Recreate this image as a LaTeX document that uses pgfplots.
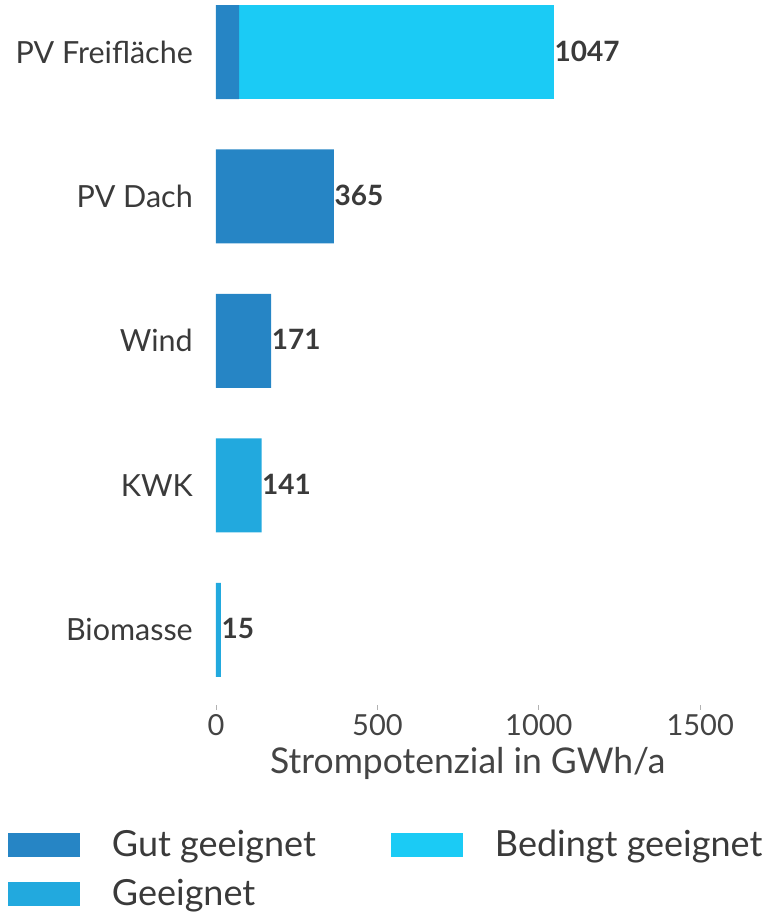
\documentclass[border=0pt]{standalone}
\usepackage{fontspec}
\setmainfont{Lato}
\usepackage{pgfplots}
\pgfplotsset{compat=1.18}
\definecolor{gut}{HTML}{2685C5}
\definecolor{geeignet}{HTML}{22A9DE}
\definecolor{bedingt}{HTML}{1BCBF5}
\definecolor{txt}{HTML}{3A3A3A}
\definecolor{tk}{HTML}{444444}
\pgfplotsset{
  frame/.style={
    at={(216pt,-705pt)}, anchor=south west,
    scale only axis, width=503.6pt, height=705pt,
    xmin=0, xmax=1560, ymin=-0.52, ymax=4.36,
    clip=false,
  }
}
\begin{document}
\begin{tikzpicture}
\useasboundingbox (0pt,0pt) rectangle (775pt,-913pt);
\begin{axis}[
  frame,
  xbar stacked, bar width=94pt,
  ytick={0,1,2,3,4},
  yticklabels={Biomasse,KWK,Wind,PV Dach,PV Freifläche},
  xtick={0,500,1000,1500},
  axis line style={draw=none},
  xtick align=outside,
  major tick length=5pt,
  xtick style={draw=gray!60, line width=0.8pt},
  ytick style={draw=none},
  /pgf/number format/assume math mode=true,
  /pgf/number format/1000 sep={},
  scaled x ticks=false,
  xticklabel style={font=\fontsize{29}{31}\selectfont, text=tk, anchor=base, inner sep=0pt, yshift=-25pt},
  yticklabel style={font=\fontsize{30.5}{32}\selectfont, text=txt, anchor=base east, inner sep=0pt, xshift=-23pt, yshift=-11pt},
  xlabel={Strompotenzial in GWh/a},
  every axis x label/.style={at={(axis description cs:0.5,0)}, anchor=base, yshift=-68pt, font=\fontsize{35.5}{38}\selectfont, text=tk},
  legend columns=2,
  legend style={at={(0,0)}, anchor=north west, xshift=-208pt, yshift=-123pt, draw=none, fill=none, inner sep=0pt, outer sep=0pt,
    font=\fontsize{36}{40}\selectfont, text=txt, row sep=17.5pt,
    /tikz/every odd column/.append style={column sep=30pt}},
  legend cell align=left,
  legend image code/.code={\fill[#1] (0pt,-13pt) rectangle (72pt,11pt);},
]
\addplot[fill=gut, draw=none] coordinates {(0,0) (0,1) (171,2) (365,3) (72,4)};
\addlegendentry{\makebox[277pt][l]{Gut geeignet}}
\addplot[fill=bedingt, draw=none] coordinates {(0,0) (0,1) (0,2) (0,3) (975,4)};
\addlegendentry{Bedingt geeignet}
\addplot[fill=geeignet, draw=none] coordinates {(15,0) (141,1) (0,2) (0,3) (0,4)};
\addlegendentry{\makebox[277pt][l]{Geeignet}}
\end{axis}
\begin{axis}[frame, hide axis]
\addplot[draw=none, mark=none, nodes near coords, point meta=explicit symbolic,
  nodes near coords style={font=\bfseries\fontsize{28}{30}\selectfont, text=txt, inner sep=0pt, anchor=base west, yshift=-9pt, xshift=0.5pt}]
  coordinates {(15,0)[15] (141,1)[141] (171,2)[171] (365,3)[365] (1047,4)[1047]};
\end{axis}
\end{tikzpicture}
\end{document}
